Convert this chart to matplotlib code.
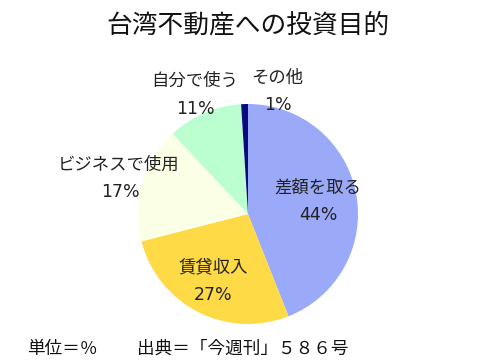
import matplotlib
matplotlib.use('Agg')
import matplotlib.pyplot as plt

plt.rcParams['font.family'] = ['Noto Sans CJK JP', 'DejaVu Sans']

labels = ['差額を取る', '賃貸収入', 'ビジネスで使用', '自分で使う', 'その他']
values = [44, 27, 17, 11, 1]
colors = ['#9aaaf8', '#ffda47', '#fbffe6', '#bbffd0', '#0a0a80']

# label / percent positions in pie data units (radius 1)
label_xy = [(0.63, 0.245), (-0.318, -0.48), (-1.18, 0.445), (-0.482, 1.209), (0.264, 1.236)]
pct_xy = [(0.636, -0.009), (-0.318, -0.736), (-1.164, 0.2), (-0.482, 0.955), (0.273, 0.991)]

fig = plt.figure(figsize=(4.78, 3.63), dpi=100)
ax = fig.add_axes([138 / 478, 39 / 363, 220 / 478, 220 / 363])
ax.pie(values, colors=colors, startangle=90, counterclock=False,
       wedgeprops={'linewidth': 0})
ax.set_xlim(-1, 1)
ax.set_ylim(-1, 1)
ax.set_aspect('auto')
ax.axis('off')

for lab, v, (lx, ly), (px, py) in zip(labels, values, label_xy, pct_xy):
    ax.text(lx, ly, lab, ha='center', va='center', fontsize=12.5, color='#222222', clip_on=False)
    ax.text(px, py, '{}%'.format(v), ha='center', va='center', fontsize=12.5, color='#222222',
            family=['DejaVu Sans'], clip_on=False)

fig.text(248 / 478, 1 - 25 / 363, '台湾不動産への投資目的', ha='center', va='center', fontsize=18.5, color='#111111')
fig.text(27 / 478, 1 - 349 / 363, '単位＝％', ha='left', va='center', fontsize=12.7, color='#111111')
fig.text(137 / 478, 1 - 349 / 363, '出典＝「今週刊」５８６号', ha='left', va='center', fontsize=12.7, color='#111111')

fig.savefig('out.png', dpi=100)
